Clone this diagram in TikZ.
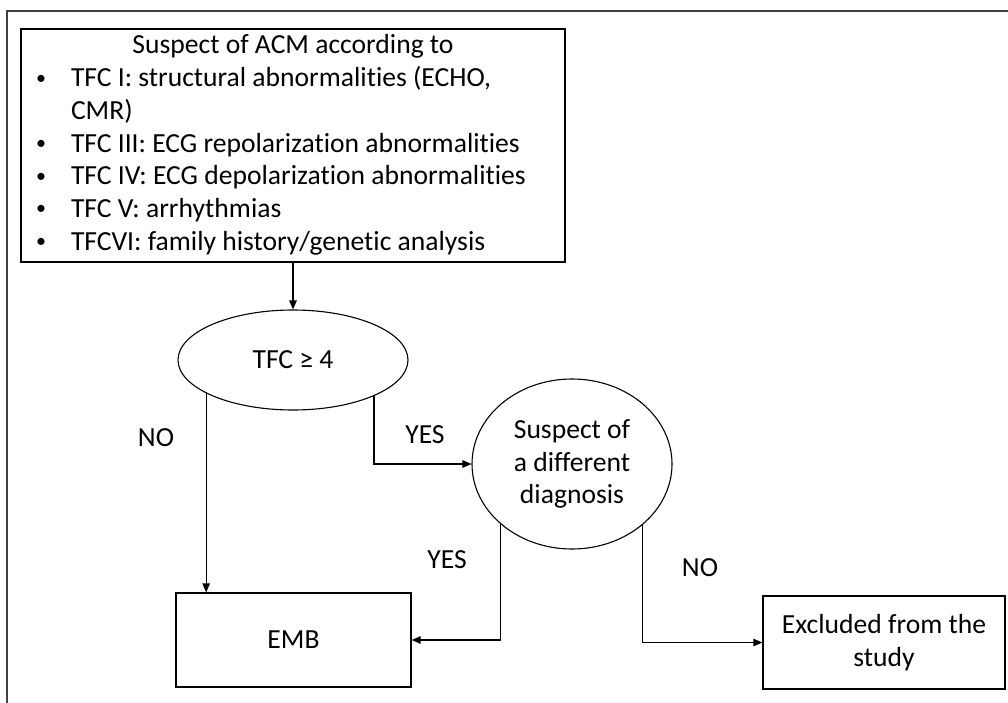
\documentclass[tikz,border=0pt]{standalone}
\usepackage{fontspec}
\setmainfont{Carlito}[Ligatures=NoCommon]
\usetikzlibrary{shapes.geometric,arrows.meta}

\newcommand{\dotmark}{\raisebox{2.5pt}{\fontsize{20}{20}\selectfont\textbullet}}

\begin{document}
\begin{tikzpicture}[x=1pt, y=-1pt,
      every node/.style={font=\fontsize{27.6}{32.7}\selectfont},
      box/.style={draw, line width=1.3pt, rectangle, inner sep=0pt, align=center},
      choice/.style={draw, line width=1.1pt, ellipse, inner sep=0pt, align=center},
      lbl/.style={inner sep=0pt},
      link/.style={line width=1.1pt, -{Triangle[length=9pt,width=7.5pt]}}
    ]
    \useasboundingbox (0,0) rectangle (1008,703);

    % outer frame, cut off at the right and at the bottom
    \draw[line width=1.8pt, black!75] (7,703) -- (7,11) -- (1008,11);

    % criteria box
    \node[box, minimum width=544pt, minimum height=233pt] (acm) at (293,145.5) {%
      \begin{tabular}{@{}p{38pt}@{}p{482pt}@{}}
        \multicolumn{2}{c}{Suspect of ACM according to}\\
        \hspace{3pt}\dotmark & TFC I: structural abnormalities (ECHO,\\
                    & CMR)\\
        \hspace{3pt}\dotmark & TFC III: ECG repolarization abnormalities\\
        \hspace{3pt}\dotmark & TFC IV: ECG depolarization abnormalities\\
        \hspace{3pt}\dotmark & TFC V: arrhythmias\\
        \hspace{3pt}\dotmark & TFCVI: family history/genetic analysis
      \end{tabular}};

    % decisions
    \node[choice, minimum width=230pt, minimum height=100pt] (tfc) at (293,360) {TFC ≥ 4};
    \node[choice, minimum width=200pt, minimum height=170pt] (diff) at (572,464) {Suspect of\\a different\\diagnosis};

    % outcomes
    \node[box, minimum width=235pt, minimum height=94pt] (emb) at (293.5,640) {EMB};
    \node[box, minimum width=242pt, minimum height=93pt] (excl) at (884,642.5) {Excluded from the\\study};

    % branch labels
    \node[lbl] (no1) at (156,438) {NO};
    \node[lbl] (yes1) at (425,435) {YES};
    \node[lbl] (yes2) at (447,560) {YES};
    \node[lbl] (no2) at (700,568) {NO};

    \draw[link] (acm.south) -- (tfc.north);
    \draw[link] (tfc.201.6) -- (tfc.201.6 |- emb.north);
    \draw[link] (tfc.336.9) |- (diff.west);
    \draw[link] (diff.220.2) |- (emb.east);
    \draw[link] (diff.319.1) |- (excl.west);

\end{tikzpicture}
\end{document}
